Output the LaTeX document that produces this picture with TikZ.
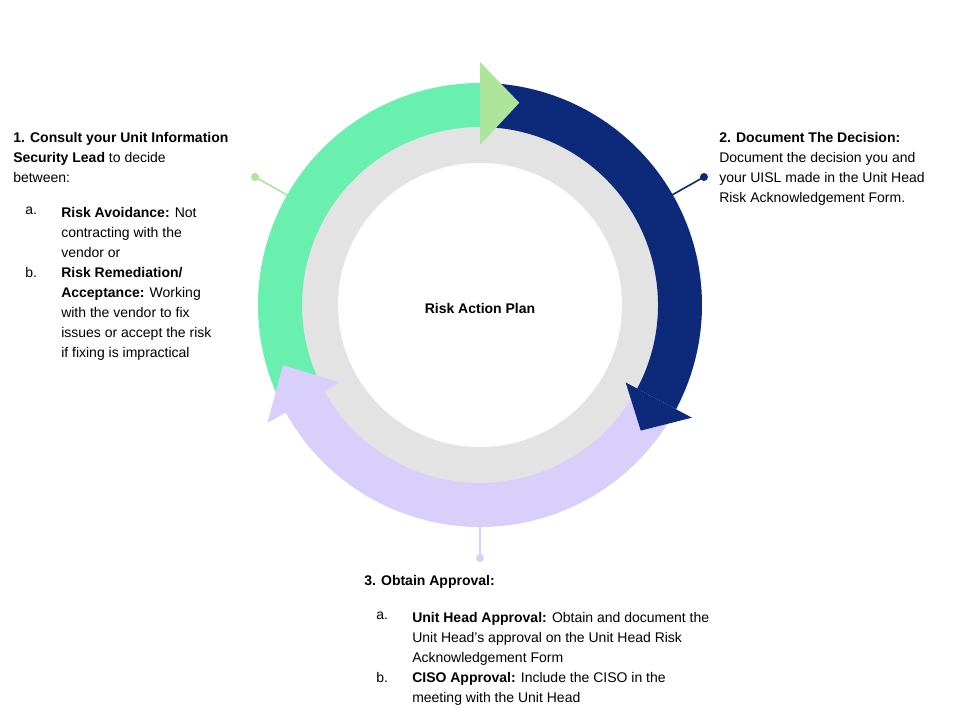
\documentclass[tikz,border=0pt]{standalone}
\usepackage{fontspec}
\setmainfont{Liberation Sans}
\begin{document}
\begin{tikzpicture}[x=0.75pt,y=0.75pt,
  txt/.style={anchor=north west,inner sep=0pt,align=left,font=\fontsize{10.5}{15}\selectfont},
  pinline/.style={line width=1.2pt},
]
\useasboundingbox (-480,305) rectangle (480,-415);
\definecolor{grn}{HTML}{69F0AE}
\definecolor{grnh}{HTML}{ADE59B}
\definecolor{navy}{HTML}{0D2A7A}
\definecolor{lav}{HTML}{D8D0FA}
\definecolor{gry}{HTML}{E3E3E3}
% centre discs
\fill[gray!30] (0,-2) circle (180);
\fill[gry] (0,0) circle (178);
\fill[white] (0,0) circle (142);
\node[font=\fontsize{10.5}{12}\selectfont\bfseries] (c) at (0,-3) {Risk Action Plan};
% pins
\coordinate (gp) at (-225,128); \coordinate (ge) at (-193,110);
\draw[pinline,grnh] (gp) -- (ge); \fill[grnh] (gp) circle (4);
\coordinate (np) at (224,128); \coordinate (ne) at (192,110);
\draw[pinline,navy] (np) -- (ne); \fill[navy] (np) circle (4);
\coordinate (lp) at (0,-253); \coordinate (le) at (0,-222);
\draw[pinline,lav] (lp) -- (le); \fill[lav] (lp) circle (4);
% green arc
\fill[grn] (205:222) arc (205:90:222) -- (90:178) arc (90:205:178) -- cycle;
% lavender arc
\fill[lav] (209:222) arc (209:328:222) -- (328:178) arc (328:209:178) -- cycle;
\fill[lav] (209:160) -- (209:243) -- (197:206) -- cycle;
% navy arc
\fill[navy] (90:222) arc (90:-28:222) -- (-28:178) arc (-28:90:178) -- cycle;
\fill[navy] (-28:165) -- (-28:240) -- (-38:204) -- cycle;
% green head
\fill[grnh] (90:243) -- (90:160) -- (79:206) -- cycle;
% texts
\node[txt] (t1) at (-467,173) {\textbf{1. Consult your Unit Information}\\\textbf{Security Lead} to decide\\between:};
\node[txt] (t1a) at (-455,98) {a.};
\node[txt] (t1at) at (-419,98) {\textbf{Risk Avoidance:} Not\\contracting with the\\vendor or};
\node[txt] (t1b) at (-455,38) {b.};
\node[txt] (t1bt) at (-419,38) {\textbf{Risk Remediation/}\\\textbf{Acceptance:} Working\\with the vendor to fix\\issues or accept the risk\\if fixing is impractical};
\node[txt] (t2) at (239,173) {\textbf{2. Document The Decision:}\\Document the decision you and\\your UISL made in the Unit Head\\Risk Acknowledgement Form.};
\node[txt] (t3) at (-116,-270) {\textbf{3. Obtain Approval:}};
\node[txt] (t3a) at (-104,-307) {a.};
\node[txt] (t3at) at (-68,-307) {\textbf{Unit Head Approval:} Obtain and document the\\Unit Head’s approval on the Unit Head Risk\\Acknowledgement Form};
\node[txt] (t3b) at (-104,-367) {b.};
\node[txt] (t3bt) at (-68,-367) {\textbf{CISO Approval:} Include the CISO in the\\meeting with the Unit Head};
\end{tikzpicture}
\end{document}
